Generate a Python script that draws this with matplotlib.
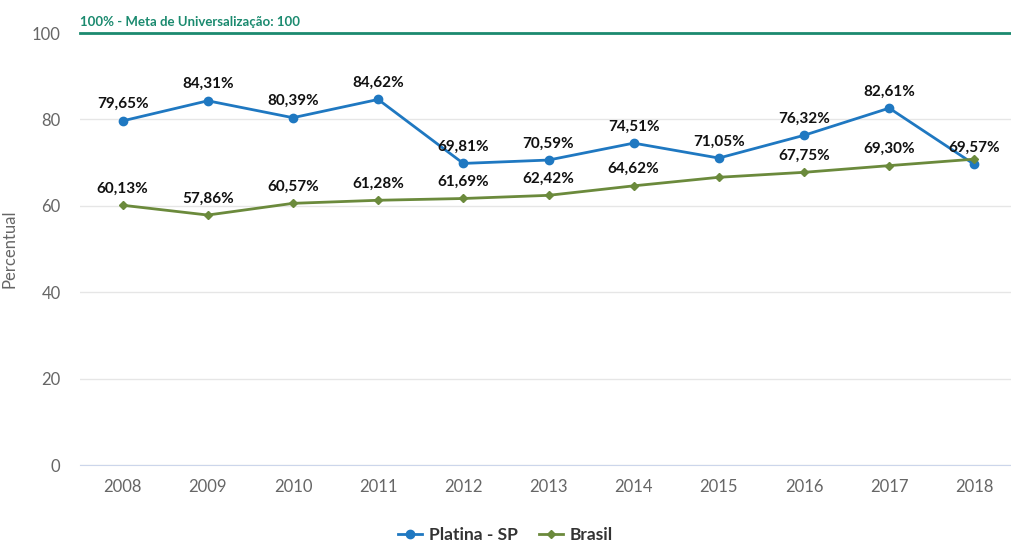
import matplotlib.pyplot as plt
import numpy as np

plt.rcParams['font.family'] = ['Lato', 'DejaVu Sans']

anos = ['2008', '2009', '2010', '2011', '2012', '2013', '2014', '2015', '2016', '2017', '2018']
platina = [79.65, 84.31, 80.39, 84.62, 69.81, 70.59, 74.51, 71.05, 76.32, 82.61, 69.57]
brasil = [60.13, 57.86, 60.57, 61.28, 61.69, 62.42, 64.62, 66.6, 67.75, 69.30, 70.8]
# rótulos do Brasil que aparecem na imagem (os outros ficam escondidos)
brasil_label = [True, True, True, True, True, True, True, False, True, True, False]
meta = 100

azul = '#1f78c1'
verde = '#6b8a3c'
teal = '#1b8a6f'

fig = plt.figure(figsize=(10.11, 5.42), dpi=100)
ax = fig.add_axes([80/1011, 77/542, 937/1011, 432/542])

x = np.arange(len(anos))
ax.plot(x, platina, color=azul, lw=2, marker='o', ms=6, label='Platina - SP', zorder=3)
ax.plot(x, brasil, color=verde, lw=2, marker='D', ms=4.5, label='Brasil', zorder=3)

for i, v in enumerate(platina):
    ax.annotate(f'{v:.2f}%'.replace('.', ','), (x[i], v), xytext=(0, 7), textcoords='offset points',
                ha='center', va='bottom', fontsize=11, fontweight='bold', color='#111111', zorder=4)
for i, v in enumerate(brasil):
    if brasil_label[i]:
        ax.annotate(f'{v:.2f}%'.replace('.', ','), (x[i], v), xytext=(0, 7), textcoords='offset points',
                    ha='center', va='bottom', fontsize=11, fontweight='bold', color='#111111', zorder=4)

# linha da meta
ax.axhline(meta, color=teal, lw=2, zorder=2, clip_on=False)
ax.text(0.0, meta + 1.2, '100% - Meta de Universalização: 100', transform=ax.get_yaxis_transform(),
        color=teal, fontsize=9.5, fontweight='bold', ha='left', va='bottom')

ax.set_xlim(-0.5, len(anos) - 0.5)
ax.set_ylim(0, 100)
ax.set_yticks([0, 20, 40, 60, 80, 100])
ax.set_xticks(x)
ax.set_xticklabels(anos)
ax.grid(axis='y', color='#e6e6e6', lw=1)
ax.set_axisbelow(True)
for s in ['top', 'right', 'left']:
    ax.spines[s].set_visible(False)
ax.spines['bottom'].set_color('#ccd6eb')
ax.tick_params(axis='y', length=0, labelsize=12, colors='#666666', pad=14)
ax.tick_params(axis='x', length=0, labelsize=12, colors='#666666', pad=10)
ax.set_ylabel('Percentual', fontsize=12, color='#666666')
ax.yaxis.set_label_coords(-62/937, 0.5)

leg = fig.legend(loc='lower center', bbox_to_anchor=(0.5, -0.03), ncol=2, frameon=False,
                 prop={'weight': 'bold', 'size': 12.5}, handlelength=1.4, columnspacing=1.2, handletextpad=0.4)
for t in leg.get_texts():
    t.set_color('#333333')

fig.savefig('out.png', dpi=100)
